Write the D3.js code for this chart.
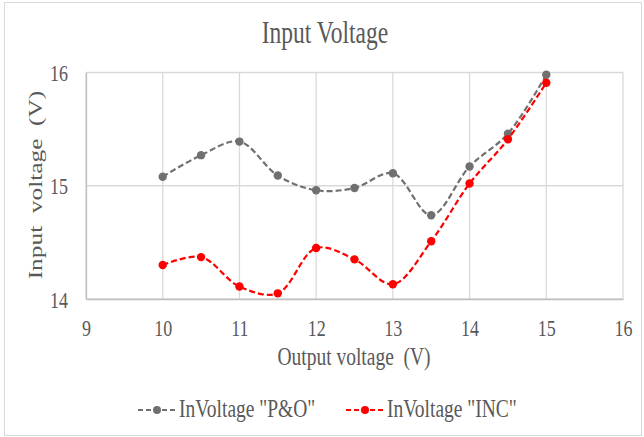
<!DOCTYPE html>
<html lang="en">
<head>
<meta charset="UTF-8">
<title>Input Voltage</title>
<script src="https://cdn.jsdelivr.net/npm/d3@7"></script>
<style>
  body { margin: 0; background: #fff; }
  svg text { font-family: "Liberation Serif", "Times New Roman", serif !important; fill: #595959; }
</style>
</head>
<body>
<script>
var outV = [10, 10.5, 11, 11.5, 12, 12.5, 13, 13.5, 14, 14.5, 15];
var inPO = [15.08, 15.27, 15.39, 15.09, 14.96, 14.98, 15.11, 14.74, 15.17, 15.46, 15.98];
var inINC = [14.30, 14.37, 14.11, 14.05, 14.45, 14.35, 14.13, 14.51, 15.02, 15.41, 15.91];
var xTicks = [9, 10, 11, 12, 13, 14, 15, 16];
var yTicks = [14, 15, 16];
var seriesNames = ['InVoltage "P&O"', 'InVoltage "INC"'];

var W = 644, H = 437;
var sy = 1.3; // the source picture looks stretched vertically

var svg = d3.select("body").append("svg").attr("width", W).attr("height", H);

// chart frame
svg.append("rect").attr("x", 4.5).attr("y", 2.5).attr("width", 637).attr("height", 433)
    .attr("fill", "#fff").attr("stroke", "#d9d9d9");

var x = d3.scaleLinear().domain([9, 16]).range([86, 623]);
var y = d3.scaleLinear().domain([14, 16]).range([299, 72.5]);

// gridlines
svg.append("g").selectAll("line").data(xTicks).enter().append("line")
    .attr("x1", function (d) { return x(d); }).attr("x2", function (d) { return x(d); })
    .attr("y1", y(14)).attr("y2", y(16))
    .attr("stroke", "#d9d9d9").attr("stroke-width", 1.3);
svg.append("g").selectAll("line").data(yTicks).enter().append("line")
    .attr("x1", x(9)).attr("x2", x(16))
    .attr("y1", function (d) { return y(d); }).attr("y2", function (d) { return y(d); })
    .attr("stroke", "#d9d9d9").attr("stroke-width", 1.3);

// axes (labels only, ticks hidden)
var xAxis = svg.append("g").attr("transform", "translate(0," + y(14) + ")")
    .call(d3.axisBottom(x).tickValues(xTicks).tickFormat(d3.format("d")).tickSize(0).tickPadding(0));
var yAxis = svg.append("g").attr("transform", "translate(" + x(9) + ",0)")
    .call(d3.axisLeft(y).tickValues(yTicks).tickFormat(d3.format("d")).tickSize(0).tickPadding(0));
xAxis.select(".domain").attr("stroke", "#bfbfbf").attr("stroke-width", 1.3);
yAxis.select(".domain").attr("stroke", "#bfbfbf").attr("stroke-width", 1.3);
xAxis.selectAll(".tick text").attr("y", 0).attr("dy", 0)
    .attr("transform", "translate(0,37) scale(1," + sy + ")")
    .style("font-size", "18px");
yAxis.selectAll(".tick text").attr("x", 0).attr("dy", 0)
    .attr("transform", "translate(-18,8) scale(1," + sy + ")")
    .style("font-size", "18px");

// title and axis titles
svg.append("text").attr("text-anchor", "middle")
    .attr("transform", "translate(325,43) scale(1," + sy + ")")
    .style("font-size", "23.5px").text("Input Voltage");
svg.append("text").attr("text-anchor", "middle")
    .attr("transform", "translate(354,365) scale(1," + sy + ")")
    .style("font-size", "19.5px").style("white-space", "pre").text("Output voltage  (V)");
svg.append("text").attr("text-anchor", "middle")
    .attr("transform", "translate(42,185) scale(1," + sy + ") rotate(-90)")
    .style("font-size", "19.5px").style("white-space", "pre").text("Input  voltage  (V)");

// series
var series = [
  { name: seriesNames[0], values: inPO, color: "#707070" },
  { name: seriesNames[1], values: inINC, color: "#ff0000" }
];
var line = d3.line()
    .x(function (d) { return x(d[0]); })
    .y(function (d) { return y(d[1]); })
    .curve(d3.curveCatmullRom.alpha(0.5));

series.forEach(function (s) {
  var pts = outV.map(function (v, i) { return [v, s.values[i]]; });
  svg.append("path").datum(pts).attr("d", line)
      .attr("fill", "none").attr("stroke", s.color)
      .attr("stroke-width", 2.2).attr("stroke-dasharray", "6,3");
  svg.append("g").selectAll("circle").data(pts).enter().append("circle")
      .attr("cx", function (d) { return x(d[0]); })
      .attr("cy", function (d) { return y(d[1]); })
      .attr("r", 4.2).attr("fill", s.color);
});

// legend
var legX = [138, 346];
series.forEach(function (s, i) {
  var g = svg.append("g").attr("transform", "translate(" + legX[i] + ",410)");
  g.append("line").attr("x1", 0).attr("x2", 38).attr("y1", 0).attr("y2", 0)
      .attr("stroke", s.color).attr("stroke-width", 2.2).attr("stroke-dasharray", "5,3");
  g.append("circle").attr("cx", 19).attr("cy", 0).attr("r", 4).attr("fill", s.color);
  g.append("text").attr("transform", "translate(41,7) scale(1," + sy + ")")
      .style("font-size", "19.5px").text(s.name);
});
</script>
</body>
</html>
